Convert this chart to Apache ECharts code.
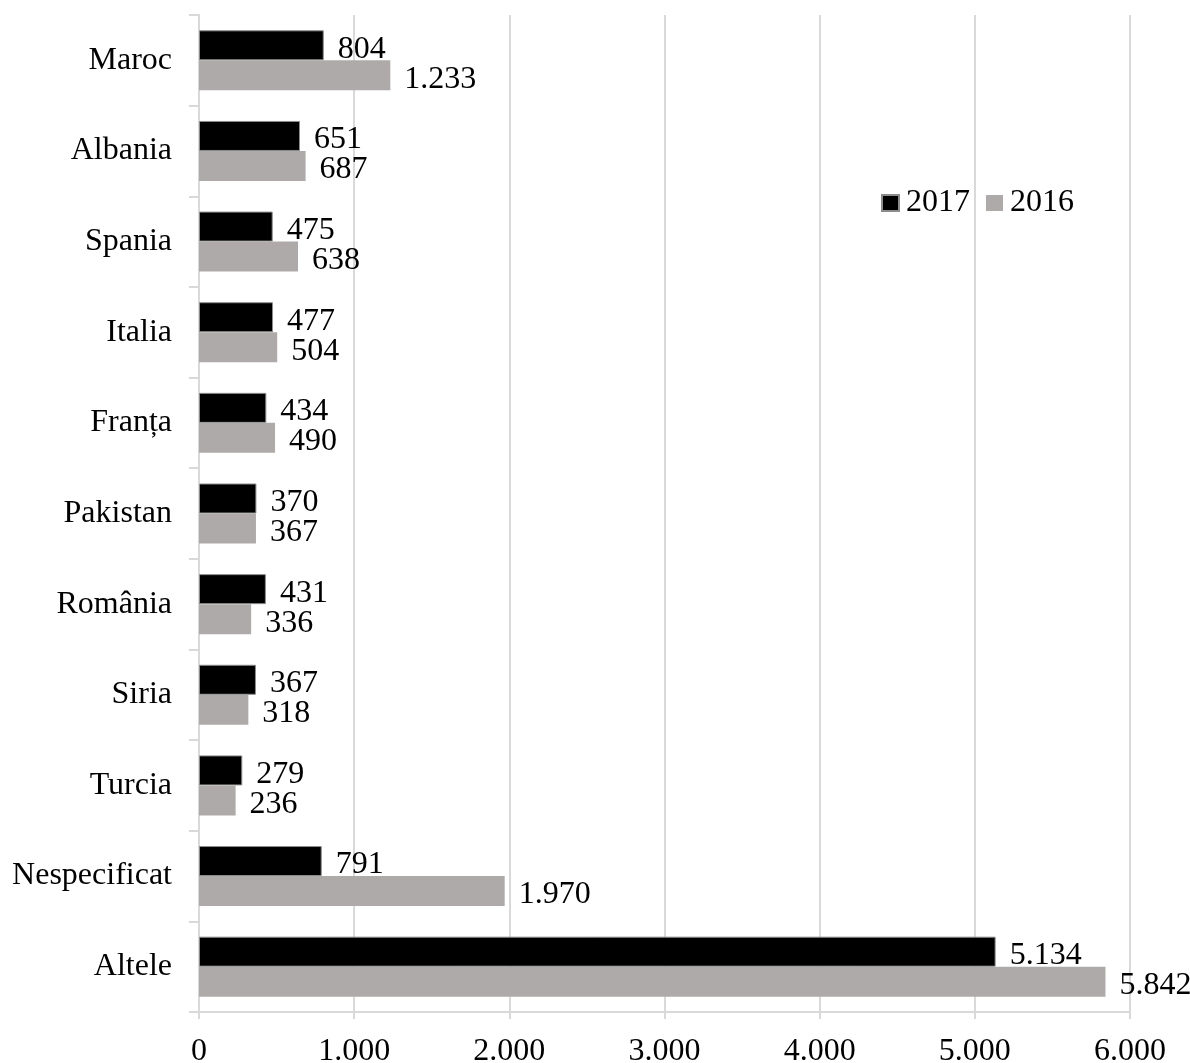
<!DOCTYPE html>
<html>
<head>
<meta charset="utf-8">
<style>
  html, body { margin: 0; padding: 0; background: #ffffff; }
  #chart { width: 1190px; height: 1063px; }
</style>
<script src="https://cdn.jsdelivr.net/npm/echarts@6/dist/echarts.min.js"></script>
</head>
<body>
<div id="chart"></div>
<script>
// Countries of origin, top to bottom
const categories = ['Maroc', 'Albania', 'Spania', 'Italia', 'Franța', 'Pakistan', 'România', 'Siria', 'Turcia', 'Nespecificat', 'Altele'];
const values2017 = [804, 651, 475, 477, 434, 370, 431, 367, 279, 791, 5134];
const values2016 = [1233, 687, 638, 504, 490, 367, 336, 318, 236, 1970, 5842];
const xTicks = [0, 1000, 2000, 3000, 4000, 5000, 6000];

const FONT = '"Liberation Serif", "Times New Roman", serif';
const FS = 32;

// Thousands separated with a dot
function fmt(v) {
  return String(v).replace(/\B(?=(\d{3})+(?!\d))/g, '.');
}

const chart = echarts.init(document.getElementById('chart'), null, { renderer: 'canvas' });

const labelStyle = {
  show: true,
  position: 'right',
  distance: 14,
  offset: [0, 4],
  color: '#000000',
  fontFamily: FONT,
  fontSize: FS,
  formatter: p => fmt(p.value)
};

chart.setOption({
  animation: false,
  backgroundColor: '#ffffff',
  textStyle: { fontFamily: FONT },
  legend: {
    left: 876,
    top: 182,
    itemWidth: 17,
    itemHeight: 16,
    itemGap: 16,
    textStyle: { fontFamily: FONT, fontSize: FS, color: '#000000', padding: [2, 0, 0, 2] },
    data: [
      { name: '2017', icon: 'rect' },
      { name: '2016', icon: 'rect' }
    ]
  },
  grid: {
    left: 199, top: 15, width: 931, height: 997,
    containLabel: false,
    outerBoundsMode: 'none'
  },
  xAxis: {
    type: 'value',
    min: xTicks[0],
    max: xTicks[xTicks.length - 1],
    interval: 1000,
    axisLine: { show: true, lineStyle: { color: '#d9d9d9', width: 2 } },
    axisTick: { show: true, length: 7, lineStyle: { color: '#d9d9d9', width: 2 } },
    splitLine: { show: true, lineStyle: { color: '#d9d9d9', width: 2 } },
    axisLabel: {
      margin: 24,
      color: '#000000',
      fontFamily: FONT,
      fontSize: FS,
      formatter: v => fmt(v)
    }
  },
  yAxis: {
    type: 'category',
    inverse: true,
    data: categories,
    axisLine: { show: true, lineStyle: { color: '#d9d9d9', width: 2 } },
    axisTick: { show: true, length: 10, lineStyle: { color: '#d9d9d9', width: 2 } },
    axisLabel: {
      margin: 27,
      color: '#000000',
      fontFamily: FONT,
      fontSize: FS,
      padding: [6, 0, 0, 0]
    }
  },
  series: [
    {
      name: '2017',
      type: 'bar',
      data: values2017,
      barWidth: 30,
      barGap: '0%',
      itemStyle: { color: '#000000', borderColor: '#8c8c8c', borderWidth: 1 },
      label: labelStyle
    },
    {
      name: '2016',
      type: 'bar',
      data: values2016,
      barWidth: 30,
      barGap: '0%',
      itemStyle: { color: '#aeaaaa' },
      label: labelStyle
    }
  ]
});
</script>
</body>
</html>
